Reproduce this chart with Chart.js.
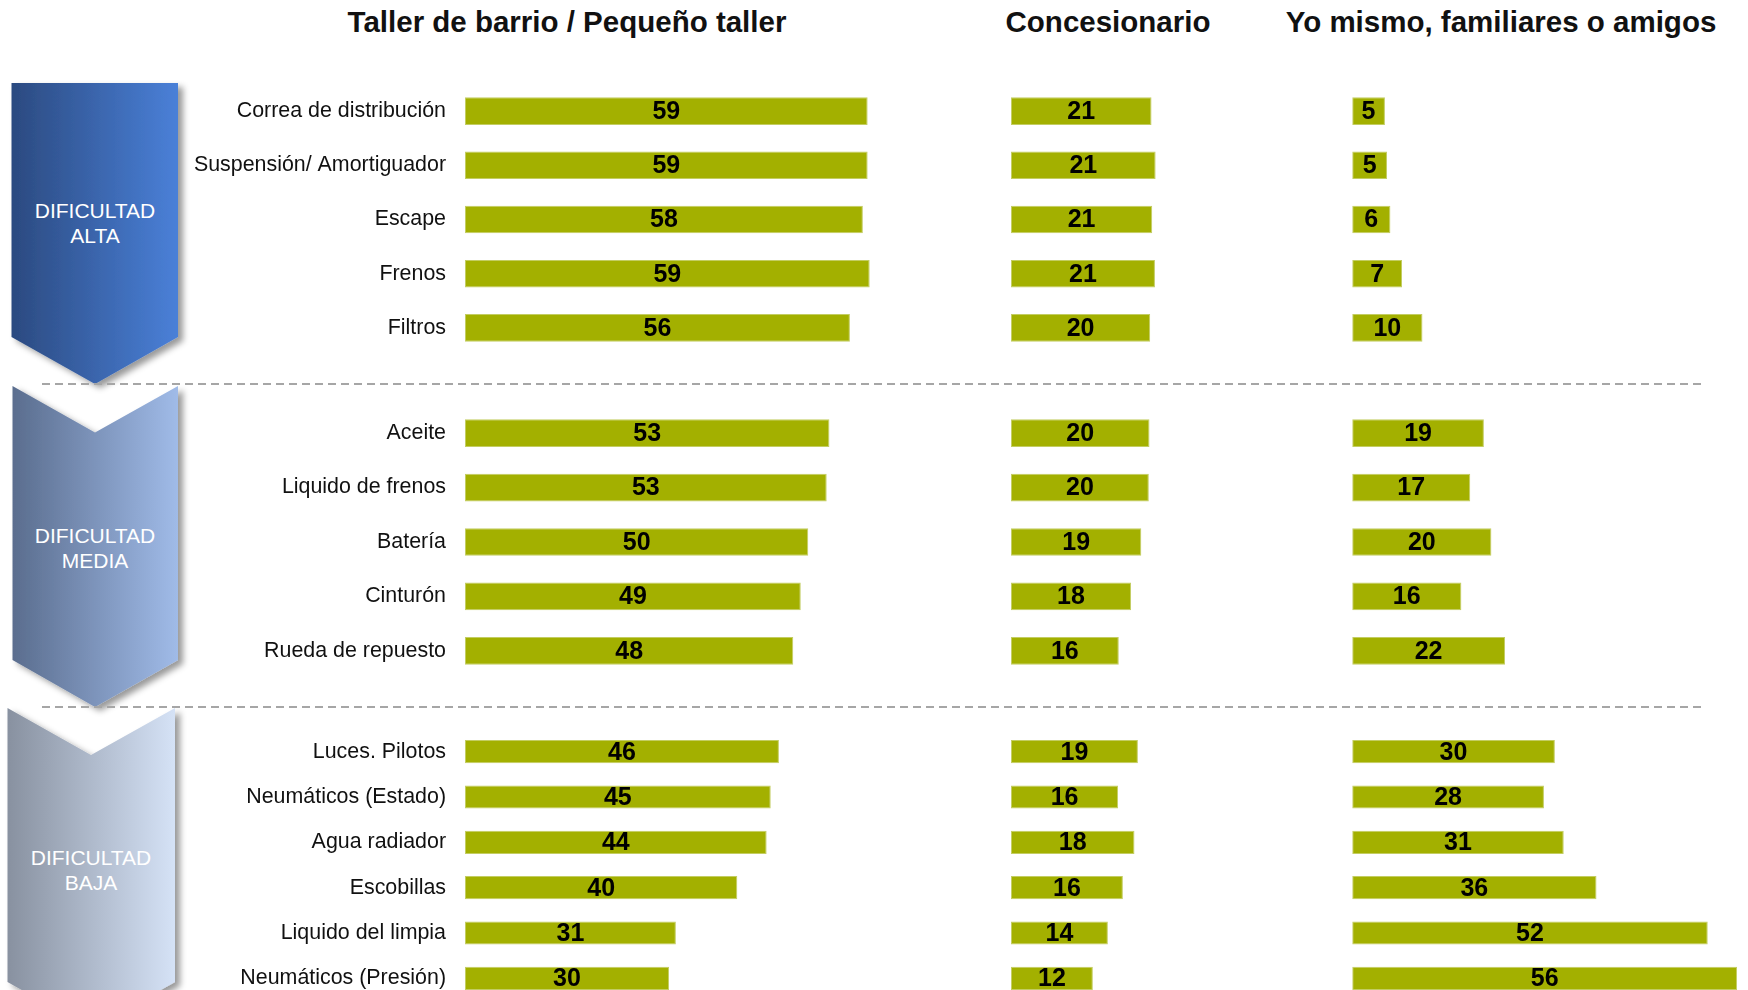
<!DOCTYPE html>
<html>
<head>
<meta charset="utf-8">
<script src="https://cdn.jsdelivr.net/npm/chart.js@4/dist/chart.umd.min.js"></script>
<style>
    body { margin: 0; background: #fff; overflow: hidden; }
    #page { position: relative; width: 1748px; height: 990px; overflow: hidden; font-family: "Liberation Sans", Arial, sans-serif; }
    .title { position: absolute; top: 5px; font-size: 29.5px; line-height: 34px; font-weight: bold; color: #111; white-space: nowrap; transform: translateX(-50%); }
    .sep { position: absolute; left: 42px; width: 1660px; height: 2px; background: repeating-linear-gradient(to right, #a6a6a6 0 8px, transparent 8px 13px); }
    .tag { position: absolute; width: 200px; text-align: center; color: #fff; font-size: 21px; line-height: 25.3px; }
    canvas { position: absolute; left: 0; }
    svg { position: absolute; left: 0; top: 0; }
</style>
</head>
<body>
<div id="page">
    <svg width="200" height="990">
        <defs>
            <linearGradient id="gAlta" x1="0" x2="1"><stop offset="0" stop-color="#2b4a80"/><stop offset="1" stop-color="#4a80d8"/></linearGradient>
            <linearGradient id="gMedia" x1="0" x2="1"><stop offset="0" stop-color="#5a6d8e"/><stop offset="1" stop-color="#a0bbe8"/></linearGradient>
            <linearGradient id="gBaja" x1="0" x2="1"><stop offset="0" stop-color="#8891a0"/><stop offset="1" stop-color="#d5e2f6"/></linearGradient>
            <filter id="shadow" x="-10%" y="-10%" width="130%" height="130%">
                <feDropShadow dx="5" dy="4" stdDeviation="3" flood-color="#000" flood-opacity="0.4"/>
            </filter>
        </defs>
        <polygon points="11.5,83 178,83 178,337 95,384 11.5,337" fill="url(#gAlta)" filter="url(#shadow)"/>
        <polygon points="12.5,386 95,432.5 178,386 178,660 95,707 12.5,660" fill="url(#gMedia)" filter="url(#shadow)"/>
        <polygon points="7.5,708 91,755 175,708 175,982 91,1029 7.5,982" fill="url(#gBaja)" filter="url(#shadow)"/>
    </svg>

    <div class="tag" style="left:-5px;top:198px">DIFICULTAD<br>ALTA</div>
    <div class="tag" style="left:-5px;top:523px">DIFICULTAD<br>MEDIA</div>
    <div class="tag" style="left:-9px;top:845px">DIFICULTAD<br>BAJA</div>

    <div class="title" style="left:567px">Taller de barrio / Pequeño taller</div>
    <div class="title" style="left:1108px">Concesionario</div>
    <div class="title" style="left:1501px">Yo mismo, familiares o amigos</div>

    <div class="sep" style="top:383px"></div>
    <div class="sep" style="top:706px"></div>

    <canvas id="chartAlta" width="1748" height="271" style="top:84px"></canvas>
    <canvas id="chartMedia" width="1748" height="272" style="top:406px"></canvas>
    <canvas id="chartBaja" width="1748" height="272" style="top:729px"></canvas>
</div>

<script>
    // group 1: dificultad alta
    const altaLabels = ['Correa de distribución', 'Suspensión/ Amortiguador', 'Escape', 'Frenos', 'Filtros'];
    const altaTaller = [59.0, 59.0, 58.3, 59.3, 56.4];
    const altaConces = [20.6, 21.2, 20.7, 21.1, 20.4];
    const altaMismo = [4.8, 5.1, 5.6, 7.3, 10.3];

    // group 2: dificultad media
    const mediaLabels = ['Aceite', 'Liquido de frenos', 'Batería', 'Cinturón', 'Rueda de repuesto'];
    const mediaTaller = [53.4, 53.0, 50.3, 49.2, 48.1];
    const mediaConces = [20.3, 20.2, 19.1, 17.6, 15.8];
    const mediaMismo = [19.3, 17.3, 20.4, 16.0, 22.4];

    // group 3: dificultad baja
    const bajaLabels = ['Luces. Pilotos', 'Neumáticos (Estado)', 'Agua radiador', 'Escobillas', 'Liquido del limpia', 'Neumáticos (Presión)'];
    const bajaTaller = [46.0, 44.8, 44.2, 39.9, 30.9, 29.9];
    const bajaConces = [18.6, 15.7, 18.1, 16.4, 14.2, 12.0];
    const bajaMismo = [29.7, 28.1, 31.0, 35.8, 52.1, 56.4];

    // axis ranges of the three side by side columns
    const colMax = [80, 50, 58];

    Chart.defaults.font.family = '"Liberation Sans", Arial, sans-serif';

    const valueLabels = {
        id: 'valueLabels',
        afterDatasetsDraw: function(chart) {
            const ctx = chart.ctx;
            ctx.save();
            ctx.font = 'bold 25px "Liberation Sans", Arial, sans-serif';
            ctx.fillStyle = '#000';
            ctx.textAlign = 'center';
            ctx.textBaseline = 'middle';
            chart.data.datasets.forEach(function(ds, i) {
                chart.getDatasetMeta(i).data.forEach(function(bar, j) {
                    const p = bar.getProps(['x', 'y', 'base'], true);
                    ctx.fillText(Math.round(ds.data[j]), (p.x + p.base) / 2, p.y + 1);
                });
            });
            ctx.restore();
        }
    };

    function barSet(values, axisId) {
        return {
            data: values,
            xAxisID: axisId,
            grouped: false,
            categoryPercentage: 1,
            barPercentage: 0.51,
            backgroundColor: '#a3b000',
            borderColor: '#c3cd62',
            borderWidth: 1,
            borderSkipped: false
        };
    }

    function colAxis(max) {
        return {
            type: 'linear',
            axis: 'x',
            position: 'bottom',
            stack: 'cols',
            stackWeight: max,
            min: 0,
            max: max,
            display: false
        };
    }

    function makeChart(id, labels, taller, conces, mismo) {
        return new Chart(document.getElementById(id), {
            type: 'bar',
            data: {
                labels: labels,
                datasets: [barSet(taller, 'x1'), barSet(conces, 'x2'), barSet(mismo, 'x3')]
            },
            options: {
                indexAxis: 'y',
                responsive: false,
                animation: false,
                layout: { padding: 0 },
                plugins: {
                    legend: { display: false },
                    tooltip: { enabled: false }
                },
                scales: {
                    y: {
                        type: 'category',
                        afterFit: function(scale) {
                            scale.width = 465;
                            scale.paddingTop = 0;
                            scale.paddingBottom = 0;
                        },
                        grid: { display: false, drawTicks: false },
                        border: { display: false },
                        ticks: { padding: 19, color: '#111', font: { size: 21.4 } }
                    },
                    x1: colAxis(colMax[0]),
                    x2: colAxis(colMax[1]),
                    x3: colAxis(colMax[2])
                }
            },
            plugins: [valueLabels]
        });
    }

    makeChart('chartAlta', altaLabels, altaTaller, altaConces, altaMismo);
    makeChart('chartMedia', mediaLabels, mediaTaller, mediaConces, mediaMismo);
    makeChart('chartBaja', bajaLabels, bajaTaller, bajaConces, bajaMismo);
</script>
</body>
</html>
